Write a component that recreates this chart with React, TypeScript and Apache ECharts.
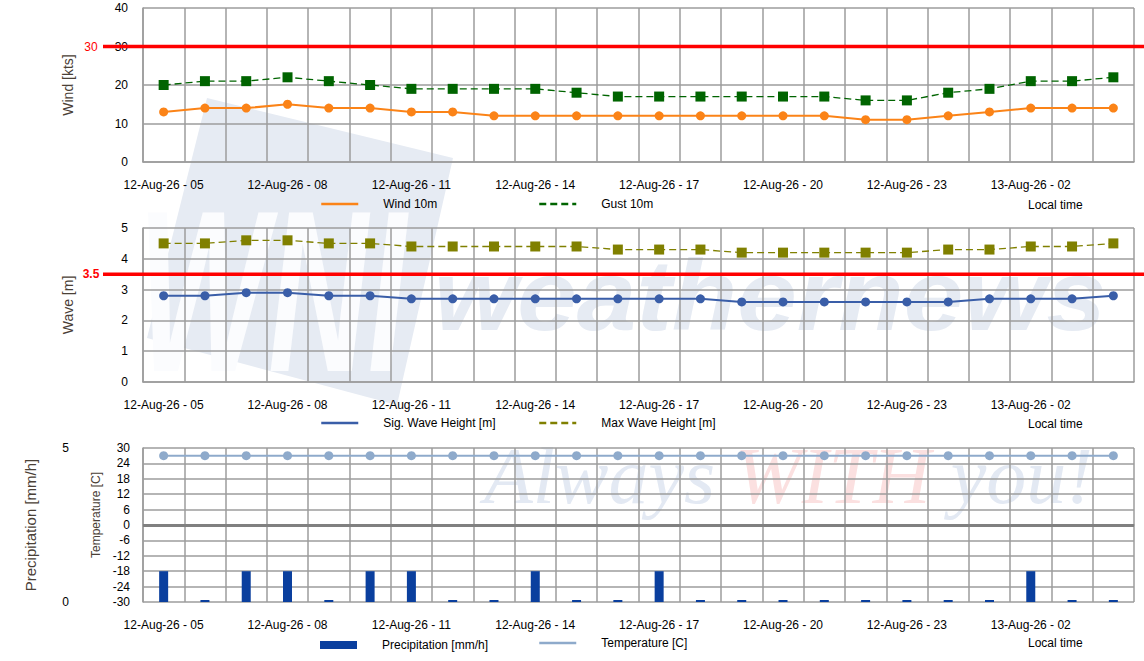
import { useEffect, useRef } from 'react';
import * as echarts from 'echarts';

const categories = [
  '12-Aug-26 - 05', '12-Aug-26 - 06', '12-Aug-26 - 07', '12-Aug-26 - 08', '12-Aug-26 - 09', '12-Aug-26 - 10',
  '12-Aug-26 - 11', '12-Aug-26 - 12', '12-Aug-26 - 13', '12-Aug-26 - 14', '12-Aug-26 - 15', '12-Aug-26 - 16',
  '12-Aug-26 - 17', '12-Aug-26 - 18', '12-Aug-26 - 19', '12-Aug-26 - 20', '12-Aug-26 - 21', '12-Aug-26 - 22',
  '12-Aug-26 - 23', '13-Aug-26 - 00', '13-Aug-26 - 01', '13-Aug-26 - 02', '13-Aug-26 - 03', '13-Aug-26 - 04',
];

const wind10m = [13, 14, 14, 15, 14, 14, 13, 13, 12, 12, 12, 12, 12, 12, 12, 12, 12, 11, 11, 12, 13, 14, 14, 14];
const gust10m = [20, 21, 21, 22, 21, 20, 19, 19, 19, 19, 18, 17, 17, 17, 17, 17, 17, 16, 16, 18, 19, 21, 21, 22];
const sigWave = [2.8, 2.8, 2.9, 2.9, 2.8, 2.8, 2.7, 2.7, 2.7, 2.7, 2.7, 2.7, 2.7, 2.7, 2.6, 2.6, 2.6, 2.6, 2.6, 2.6, 2.7, 2.7, 2.7, 2.8];
const maxWave = [4.5, 4.5, 4.6, 4.6, 4.5, 4.5, 4.4, 4.4, 4.4, 4.4, 4.4, 4.3, 4.3, 4.3, 4.2, 4.2, 4.2, 4.2, 4.2, 4.3, 4.3, 4.4, 4.4, 4.5];
const precipitation = [1, 0, 1, 1, 0, 1, 1, 0, 0, 1, 0, 0, 1, 0, 0, 0, 0, 0, 0, 0, 0, 1, 0, 0];
const temperature = [27, 27, 27, 27, 27, 27, 27, 27, 27, 27, 27, 27, 27, 27, 27, 27, 27, 27, 27, 27, 27, 27, 27, 27];

const windThreshold = 30;
const waveThreshold = 3.5;

const FONT = 'Liberation Sans, Arial, sans-serif';
const GRID_COLOR = '#9c9c9c';
const NAME_COLOR = '#4a4036';

const GRID_LEFT = 143;
const GRID_RIGHT = 10;
const GRID_H = 154;
const GRID_TOPS = [8, 228, 448];

function xAxisFor(gridIndex: number) {
  return {
    type: 'category',
    gridIndex,
    data: categories,
    boundaryGap: true,
    axisTick: { show: false },
    axisLine: { show: true, lineStyle: { color: GRID_COLOR, width: 1.5 } },
    axisLabel: { interval: 2, color: '#000', fontSize: 12, margin: 17, fontFamily: FONT },
    splitLine: { show: true, interval: 0, lineStyle: { color: GRID_COLOR, width: 1.5 } },
  };
}

function legendFor(name: string, left: number, top: number, extra: any = {}) {
  return {
    data: [name],
    left,
    top,
    padding: 0,
    orient: 'horizontal',
    itemWidth: 37,
    itemHeight: 14,
    selectedMode: false,
    textStyle: { fontSize: 12, color: '#000', fontFamily: FONT, padding: [0, 0, 0, 20] },
    itemStyle: { opacity: 0 },
    lineStyle: { width: 2.5 },
    ...extra,
  };
}

export default function App() {
  const ref = useRef<HTMLDivElement>(null);

  useEffect(() => {
    const chart = echarts.init(ref.current!, null, { renderer: 'svg' });

    const option: any = {
      animation: false,
      backgroundColor: '#ffffff',
      textStyle: { fontFamily: FONT },
      grid: GRID_TOPS.map((top) => ({ left: GRID_LEFT, right: GRID_RIGHT, top, height: GRID_H, containLabel: false })),
      xAxis: [xAxisFor(0), xAxisFor(1), xAxisFor(2)],
      yAxis: [
        {
          type: 'value', gridIndex: 0, min: 0, max: 40, interval: 10,
          name: 'Wind [kts]', nameLocation: 'middle', nameGap: 68,
          nameTextStyle: { color: NAME_COLOR, fontSize: 14, fontFamily: FONT },
          axisLine: { show: true, lineStyle: { color: GRID_COLOR, width: 1.5 } },
          axisTick: { show: false },
          axisLabel: { color: '#000', fontSize: 12, margin: 15 },
          splitLine: { show: true, lineStyle: { color: GRID_COLOR, width: 1.5 } },
        },
        {
          type: 'value', gridIndex: 1, min: 0, max: 5, interval: 1,
          name: 'Wave [m]', nameLocation: 'middle', nameGap: 68,
          nameTextStyle: { color: NAME_COLOR, fontSize: 14, fontFamily: FONT },
          axisLine: { show: true, lineStyle: { color: GRID_COLOR, width: 1.5 } },
          axisTick: { show: false },
          axisLabel: { color: '#000', fontSize: 12, margin: 15 },
          splitLine: { show: true, lineStyle: { color: GRID_COLOR, width: 1.5 } },
        },
        {
          type: 'value', gridIndex: 2, min: -30, max: 30, interval: 6,
          name: 'Temperature [C]', nameLocation: 'middle', nameGap: 26,
          nameTextStyle: { color: NAME_COLOR, fontSize: 12, fontFamily: FONT, padding: [0, 0, 0, 20] },
          axisLine: { show: true, lineStyle: { color: GRID_COLOR, width: 1.5 } },
          axisTick: { show: false },
          axisLabel: { color: '#000', fontSize: 12, margin: 13 },
          splitLine: { show: true, lineStyle: { color: GRID_COLOR, width: 1.5 } },
        },
        {
          type: 'value', gridIndex: 2, min: 0, max: 5, interval: 5,
          position: 'left', offset: 60,
          name: 'Precipitation [mm/h]', nameLocation: 'middle', nameGap: 45,
          nameTextStyle: { color: NAME_COLOR, fontSize: 15, fontFamily: FONT },
          axisLine: { show: false },
          axisTick: { show: false },
          axisLabel: { color: '#000', fontSize: 12, margin: 14 },
          splitLine: { show: false },
        },
      ],
      legend: [
        legendFor('Wind 10m', 320, 198),
        legendFor('Gust 10m', 538, 198),
        legendFor('Sig. Wave Height [m]', 320, 417),
        legendFor('Max Wave Height [m]', 538, 417),
        legendFor('Precipitation [mm/h]', 320, 639, { icon: 'rect', itemHeight: 8, itemStyle: {} }),
        legendFor('Temperature [C]', 538, 637),
      ],
      series: [
        {
          name: 'Wind 10m', type: 'line', xAxisIndex: 0, yAxisIndex: 0, data: wind10m,
          symbol: 'circle', symbolSize: 9,
          itemStyle: { color: '#fb8317' },
          lineStyle: { color: '#fb8317', width: 2 },
          z: 4,
        },
        {
          name: 'Gust 10m', type: 'line', xAxisIndex: 0, yAxisIndex: 0, data: gust10m,
          symbol: 'rect', symbolSize: 10,
          itemStyle: { color: '#006400' },
          lineStyle: { color: '#006400', width: 1.3, type: [7, 4] },
          z: 4,
        },
        {
          name: 'Sig. Wave Height [m]', type: 'line', xAxisIndex: 1, yAxisIndex: 1, data: sigWave,
          symbol: 'circle', symbolSize: 9,
          itemStyle: { color: '#3a5ea8' },
          lineStyle: { color: '#3a5ea8', width: 2 },
          z: 4,
        },
        {
          name: 'Max Wave Height [m]', type: 'line', xAxisIndex: 1, yAxisIndex: 1, data: maxWave,
          symbol: 'rect', symbolSize: 10,
          itemStyle: { color: '#808000' },
          lineStyle: { color: '#808000', width: 1.3, type: [7, 4] },
          z: 4,
        },
        {
          name: 'Precipitation [mm/h]', type: 'bar', xAxisIndex: 2, yAxisIndex: 3, data: precipitation,
          barWidth: 9, barMinHeight: 2,
          itemStyle: { color: '#0a3f9e' },
          z: 3,
        },
        {
          name: 'Temperature [C]', type: 'line', xAxisIndex: 2, yAxisIndex: 2, data: temperature,
          symbol: 'circle', symbolSize: 9,
          itemStyle: { color: '#8eaacb' },
          lineStyle: { color: '#8eaacb', width: 2 },
          z: 4,
          markLine: {
            silent: true,
            symbol: ['none', 'none'],
            label: { show: false },
            lineStyle: { color: '#808080', width: 3, type: 'solid' },
            data: [{ yAxis: 0 }],
          },
        },
      ],
    };

    chart.setOption(option);

    const y30 = chart.convertToPixel({ yAxisIndex: 0 }, windThreshold) as number;
    const y35 = chart.convertToPixel({ yAxisIndex: 1 }, waveThreshold) as number;

    const localTimeTexts = [205, 424, 643].map((cy) => ({
      type: 'text', x: 1028, y: cy, z: 10,
      style: { text: 'Local time', fill: '#000', font: `12px ${FONT}`, verticalAlign: 'middle' },
    }));

    chart.setOption({
      graphic: [
        // watermark logo
        {
          type: 'polygon', z: -20, silent: true,
          shape: { points: [[207, 98], [453, 158], [397, 405], [147, 338]] },
          style: { fill: '#e6ebf3' },
        },
        {
          type: 'text', z: -19, silent: true, x: 138, y: 176, scaleX: 0.6,
          style: { text: 'WNI', fill: '#fbfcfe', font: `italic bold 230px ${FONT}`, verticalAlign: 'top' },
        },
        {
          type: 'text', z: -19, silent: true, x: 434, y: 245, scaleX: 1.07,
          style: { text: 'weathernews', fill: '#e6ebf3', font: `italic bold 100px ${FONT}`, verticalAlign: 'top' },
        },
        {
          type: 'text', z: -19, silent: true, x: 484, y: 436,
          style: {
            text: '{a|Always }{b|WITH}{a| you!}',
            verticalAlign: 'top',
            rich: {
              a: { fill: '#e3e9f3', font: `italic 80px Liberation Serif, serif` },
              b: { fill: '#fbe0e0', font: `italic 80px Liberation Serif, serif` },
            },
          },
        },
        // threshold lines
        {
          type: 'line', z: 8, silent: true,
          shape: { x1: GRID_LEFT - 40, y1: y30, x2: 1144, y2: y30 },
          style: { stroke: '#ff0000', lineWidth: 3.5 },
        },
        {
          type: 'text', z: 9, x: 91, y: y30,
          style: { text: String(windThreshold), fill: '#ff0000', font: `12px ${FONT}`, align: 'center', verticalAlign: 'middle' },
        },
        {
          type: 'line', z: 8, silent: true,
          shape: { x1: GRID_LEFT - 40, y1: y35, x2: 1144, y2: y35 },
          style: { stroke: '#ff0000', lineWidth: 3.5 },
        },
        {
          type: 'text', z: 9, x: 91, y: y35,
          style: { text: String(waveThreshold), fill: '#ff0000', font: `bold 12px ${FONT}`, align: 'center', verticalAlign: 'middle' },
        },
        ...localTimeTexts,
      ],
    });

    return () => chart.dispose();
  }, []);

  return <div ref={ref} style={{ position: 'absolute', left: 0, top: 0, width: 1144, height: 661 }} />;
}
